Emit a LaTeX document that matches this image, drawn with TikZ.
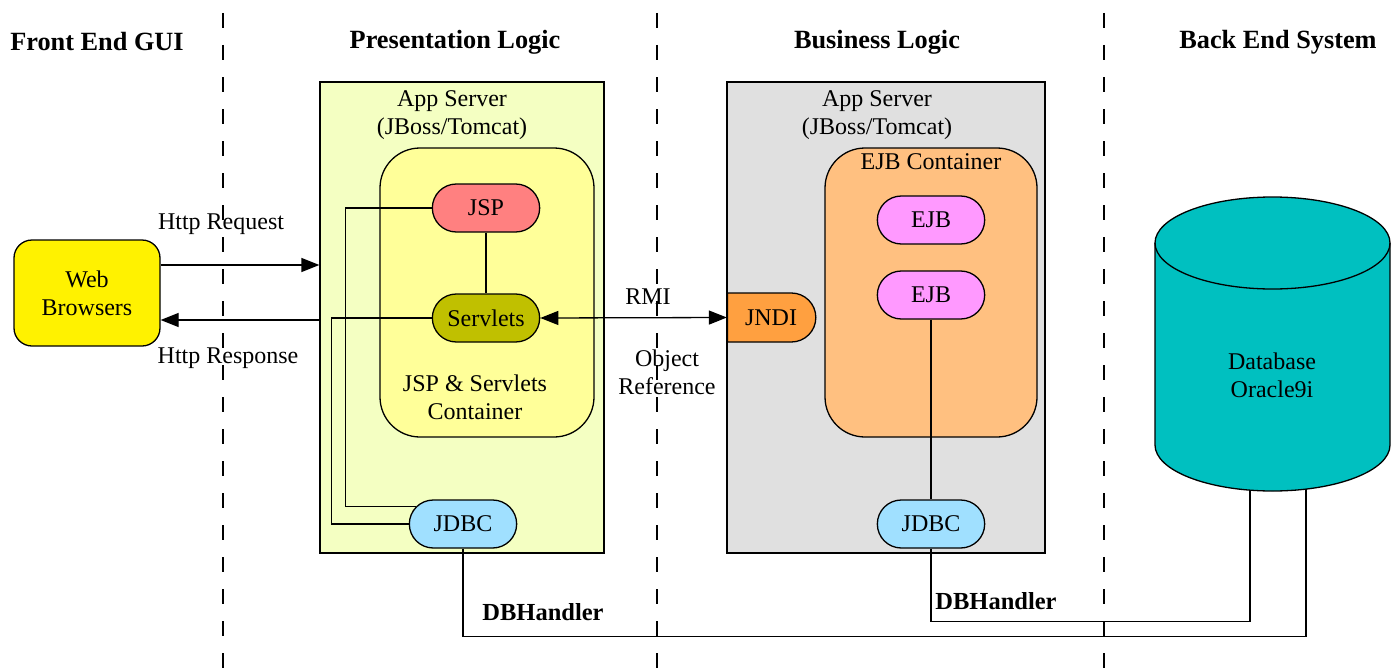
\documentclass[tikz,border=0pt]{standalone}
\usepackage{fontspec}
\setmainfont{Liberation Serif}
\usepackage{tikz}
\usetikzlibrary{arrows.meta,shapes.misc}

\definecolor{presfill}{HTML}{F4FFC2}
\definecolor{jspcfill}{HTML}{FFFF99}
\definecolor{jspfill}{HTML}{FF8080}
\definecolor{srvfill}{HTML}{C0C000}
\definecolor{jdbcfill}{HTML}{A0E0FF}
\definecolor{bizfill}{HTML}{E0E0E0}
\definecolor{ejbcfill}{HTML}{FFC080}
\definecolor{ejbfill}{HTML}{FF99FF}
\definecolor{jndifill}{HTML}{FFA040}
\definecolor{dbfill}{HTML}{00C0C0}

\begin{document}
\begin{tikzpicture}[x=1pt,y=1pt,line width=1.3pt,
  every node/.style={font=\fontsize{24}{28}\selectfont,align=center},
  head/.style={font=\fontsize{26.3}{28}\selectfont\bfseries},
  handler/.style={font=\fontsize{24.5}{28}\selectfont\bfseries},
  pill/.style={rounded rectangle,draw,minimum width=114,minimum height=48},
  tier/.style={rectangle,draw,minimum width=#1,minimum height=471},
  cont/.style={rectangle,draw,rounded corners=40,minimum width=#1,minimum height=289},
  arr/.style={-{Triangle[length=18pt,width=14pt]}}]
  \useasboundingbox (0,0) rectangle (1396,-669);

  \node[head] (hgui) at (97,-42) {Front End GUI};
  \node[head] (hpres) at (455,-42) {Presentation Logic};
  \node[head] (hbiz) at (877,-42) {Business Logic};
  \node[head] (hback) at (1278,-42) {Back End System};

  \node[draw,fill=yellow,rounded corners=18,minimum width=146,minimum height=106] (web) at (87,-293) {Web\\Browsers};

  % presentation tier
  \node[tier=284,fill=presfill] (prs) at (462,-317.5) {};
  \node (prslbl) at (452,-115) {App Server\\(JBoss/Tomcat)};
  \node[cont=214,fill=jspcfill] (jspc) at (487,-292.5) {};
  \node (jspclbl) at (475,-397) {JSP \& Servlets\\Container};
  \node[pill,fill=jspfill] (jsp) at (486,-208) {JSP};
  \node[pill,fill=srvfill] (srv) at (486,-318) {Servlets};
  \node[pill,fill=jdbcfill] (jdbc) at (463,-524) {JDBC};

  % business tier
  \node[tier=318,fill=bizfill] (biz) at (886,-317.5) {};
  \node (bizlbl) at (877,-115) {App Server\\(JBoss/Tomcat)};
  \node[cont=212,fill=ejbcfill] (ejbc) at (931,-292.5) {};
  \node (ejbclbl) at (931,-162) {EJB Container};
  \node[pill,fill=ejbfill] (ejba) at (931,-220) {EJB};
  \node[pill,fill=ejbfill] (ejbb) at (931,-295) {EJB};
  \node[pill,fill=jdbcfill] (jdbcb) at (931,-524) {JDBC};
  \node[rounded rectangle,rounded rectangle west arc=none,draw,fill=jndifill,
        minimum width=95,minimum height=49] (jndi) at (771,-317.5) {JNDI};

  % database
  \draw[fill=dbfill] (1155,-243) -- (1155,-445)
    arc[start angle=180,end angle=360,x radius=117.5,y radius=46] -- (1390,-243)
    arc[start angle=0,end angle=180,x radius=117.5,y radius=46] -- cycle;
  \draw (1155,-243) arc[start angle=180,end angle=360,x radius=117.5,y radius=46];
  \node (db) at (1272,-375) {Database\\Oracle9i};
  \coordinate (dba) at (1250,-490);
  \coordinate (dbb) at (1306,-489);

  \draw[arr] ([yshift=28]web.east) -- ([yshift=28]web.east -| prs.west);
  \draw[arr] ([yshift=-27]web.east -| prs.west) -- ([yshift=-27]web.east);
  \node (req) at (221,-224) {Http Request};
  \node (resp) at (228,-358) {Http Response};

  \draw[line width=2.4pt] (jsp.south) -- (srv.north);
  \draw (jsp.west) -- ++(-86,0) |- (jdbc.160);
  \draw (srv.west) -- ++(-100,0) |- (jdbc.west);
  \draw (ejbb.south) -- (jdbcb.north);

  \draw[{Triangle[length=18pt,width=14pt]}-{Triangle[length=18pt,width=14pt]}] (srv.east) -- (jndi.west);
  \node (rmi) at (648,-297) {RMI};
  \node (objref) at (667,-372) {Object\\Reference};

  \draw (jdbc.south) -- ++(0,-88) -| (dbb);
  \draw (jdbcb.south) -- ++(0,-73) -| (dba);
  \node[handler] (dbh) at (543,-612) {DBHandler};
  \node[handler] (dbhb) at (996,-601) {DBHandler};

  \foreach \x in {223,657,1104}
    \draw[dash pattern=on 15pt off 17pt] (\x,-13) -- (\x,-669);
\end{tikzpicture}
\end{document}
